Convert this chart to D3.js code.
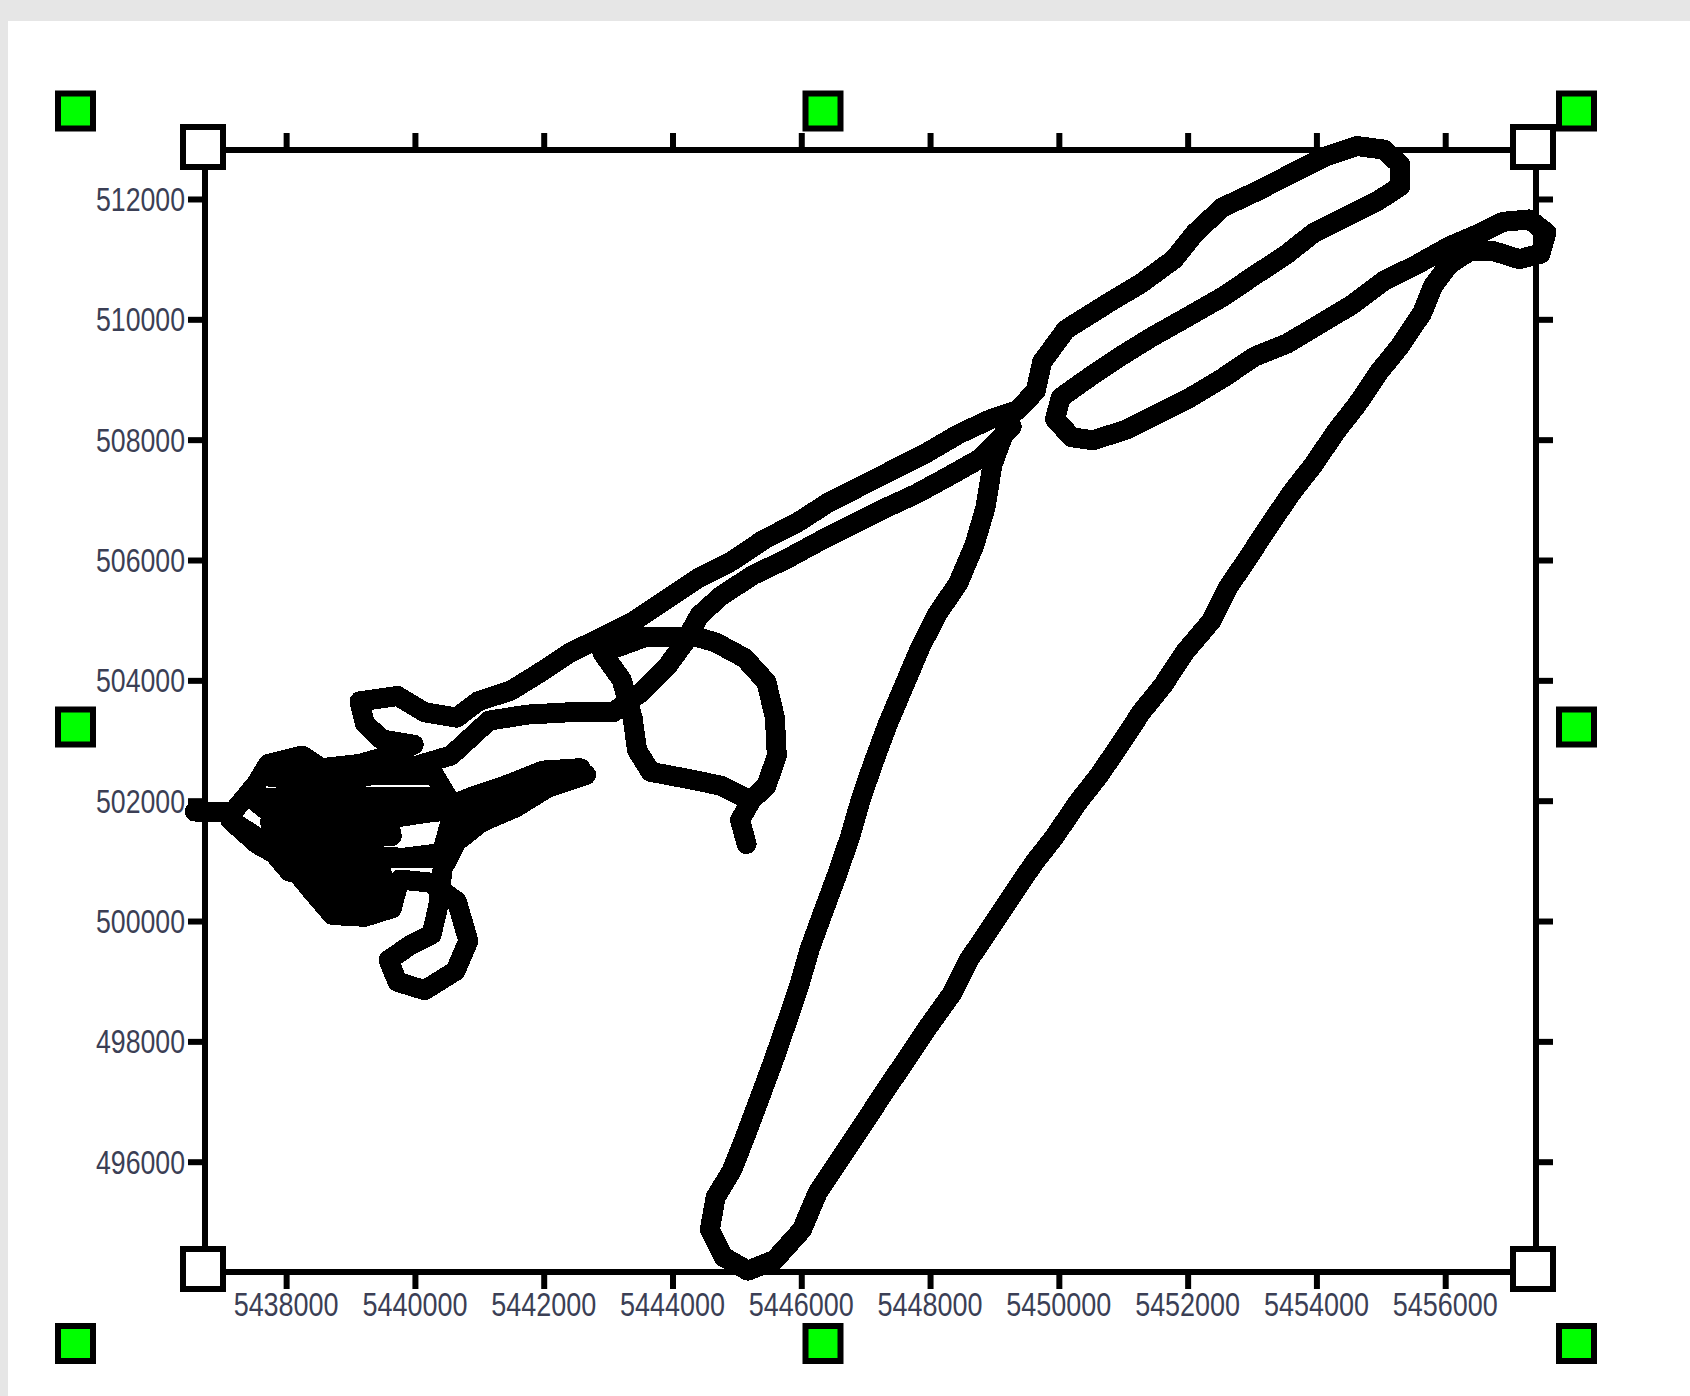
<!DOCTYPE html>
<html>
<head>
<meta charset="utf-8">
<script src="https://cdn.jsdelivr.net/npm/d3@7"></script>
<style>
  html, body { margin: 0; padding: 0; background: #e6e6e6; }
  #panel { position: absolute; left: 8px; top: 21px; width: 1682px; height: 1375px; background: #fff; }
  svg { position: absolute; left: 0; top: 0; }
</style>
</head>
<body>
<div id="panel"></div>
<svg id="chart" width="1690" height="1396"></svg>
<script>
// track legs, [easting, northing]
var westTop = [[5436580,501820],[5437180,501820],[5437550,502300],[5437720,502610],[5438250,502750],
  [5438550,502540],[5439140,502610],[5439590,502750],[5439980,502930],[5439480,503020],[5439220,503290],
  [5439140,503650],[5439730,503740],[5440150,503470],[5440650,503380]];
var outbound = [[5440980,503650],[5441490,503830],[5441900,504100],[5442410,504460],[5442910,504720],
  [5443410,504990],[5443910,505350],[5444420,505710],[5444920,505980],[5445420,506340],[5445920,506610],
  [5446430,506960],[5446930,507230],[5447430,507500],[5447930,507770],[5448440,508090],[5448940,508340],
  [5449360,508490]];
var northLoop = [[5449640,508810],[5449740,509290],[5450110,509830],[5450780,510280],[5451280,510600],
  [5451790,511000],[5452120,511440],[5452540,511860],[5453040,512110],[5453630,512430],[5454130,512700],
  [5454630,512880],[5455050,512820],[5455300,512570],[5455300,512210],[5454970,511980],[5454470,511710],
  [5453960,511440],[5453550,511090],[5453040,510730],[5452540,510370],[5451950,510010],[5451450,509710],
  [5450950,509380],[5450450,509020],[5450030,508700],[5449940,508340],[5450200,508040],[5450530,507990]];
var eastLeg = [[5451030,508160],[5451540,508430],[5452040,508700],[5452540,509020],[5453040,509380],
  [5453550,509600],[5454050,509920],[5454550,510240],[5455050,510640],[5455560,510910],[5456060,511210],
  [5456560,511440],[5456900,511620],[5457310,511660],[5457570,511440],[5457480,511090],[5457150,511000],
  [5456730,511140],[5456390,511140]];
var southLoop = [[5456060,510910],[5455810,510550],[5455640,510100],[5455300,509560],[5454970,509120],
  [5454630,508580],[5454300,508130],[5453960,507590],[5453630,507140],[5453290,506610],[5452960,506070],
  [5452620,505530],[5452370,504990],[5451950,504460],[5451620,503920],[5451280,503470],[5450950,502930],
  [5450610,502400],[5450280,501950],[5449940,501410],[5449610,500960],[5449270,500420],[5448940,499890],
  [5448600,499350],[5448350,498810],[5447930,498180],[5447600,497650],[5447260,497110],[5446930,496570],
  [5446590,496030],[5446260,495500],[5446010,494870],[5445590,494370],[5445170,494190],[5444790,494420],
  [5444580,494870],[5444670,495410],[5444920,495850],[5445120,496390],[5445340,497020],[5445560,497650],
  [5445760,498270],[5445960,498900],[5446130,499530],[5446340,500150],[5446560,500780],[5446760,501410],
  [5446930,502040],[5447130,502660],[5447350,503290],[5447600,503920],[5447850,504550],[5448100,505080],
  [5448440,505620],[5448690,506250],[5448860,506870],[5448970,507590],[5449190,508220]];
var returnLeg = [[5449270,508220],[5448770,507680],[5448270,507380],[5447770,507090],[5447260,506840],
  [5446760,506570],[5446260,506300],[5445760,506010],[5445250,505750],[5444750,505400],[5444420,505080],
  [5444250,504760]];
var lobe = [[5444670,504630],[5445120,504370],[5445460,503970],[5445590,503380],[5445620,502750],
  [5445460,502250],[5445220,502000],[5444750,502250],[5444250,502360],[5443660,502480],[5443450,502840],
  [5443380,503380],[5443210,504010],[5442910,504460],[5443580,504720],[5444250,504720],[5443910,504220],
  [5443500,503790],[5443080,503470],[5442410,503470],[5441740,503430],[5441150,503330]];
var blobA = [[5440560,502750],[5439890,502540],[5439220,502400],[5438550,502300],[5437970,502130],
  [5437750,501640],[5438140,501320],[5438640,501500],[5439140,501640],[5439640,501710],[5440310,501820],
  [5440900,502070],[5441400,502250],[5441990,502500],[5442570,502540]];
var blobB = [[5440560,501640],[5440480,501140],[5439810,501050],[5439140,501100],[5438550,501140],
  [5437970,501140],[5437550,501390],[5437130,501680],[5437550,501280],[5438020,501000],[5438390,500510],
  [5438720,500100],[5439220,500070],[5439640,500210],[5439760,500690],[5440230,500640],[5440650,500330],
  [5440830,499670],[5440630,499170],[5440150,498850],[5439730,498990],[5439590,499350],[5439930,499600],
  [5440260,499780],[5440360,500240],[5440430,500870],[5440650,501320],[5441030,501640],[5441570,501890],
  [5442070,502220],[5442660,502430]];
var blobFill = [[5437720,502400],[5440300,502430],[5440500,502070],[5437470,502040],[5437920,501640],
  [5439260,501680],[5440600,501850],[5440400,501050],[5439310,501050],[5437800,501140],[5438050,500820],
  [5439480,500820],[5439560,500500],[5438420,500500],[5438720,500190],[5439560,500190]];
var blobFill2 = [[5437920,501860],[5439560,501860],[5439640,501410],[5437720,501410]];
var tail = [[5445220,502000],[5445050,501680],[5445150,501280]];

var xTicks = [5438000,5440000,5442000,5444000,5446000,5448000,5450000,5452000,5454000,5456000];
var yTicks = [512000,510000,508000,506000,504000,502000,500000,498000,496000];

var frame = { left: 205, right: 1536, top: 150, bottom: 1272 };
var svg = d3.select("#chart");

var x = d3.scaleLinear().domain([5436740, 5457410]).range([frame.left, frame.right]);
var y = d3.scaleLinear().domain([494167, 512814]).range([frame.bottom, frame.top]);

var tickLen = 17;
function styleAxis(g) {
    g.select(".domain").remove();
    g.selectAll(".tick line").attr("stroke", "#000").attr("stroke-width", 6);
    g.selectAll(".tick text").remove();
}
svg.append("g").attr("transform", "translate(0," + frame.bottom + ")")
    .call(d3.axisBottom(x).tickValues(xTicks).tickSize(tickLen)).call(styleAxis);
svg.append("g").attr("transform", "translate(0," + frame.top + ")")
    .call(d3.axisTop(x).tickValues(xTicks).tickSize(tickLen)).call(styleAxis);
svg.append("g").attr("transform", "translate(" + frame.left + ",0)")
    .call(d3.axisLeft(y).tickValues(yTicks).tickSize(tickLen)).call(styleAxis);
svg.append("g").attr("transform", "translate(" + frame.right + ",0)")
    .call(d3.axisRight(y).tickValues(yTicks).tickSize(tickLen)).call(styleAxis);

// frame
svg.append("rect")
    .attr("x", frame.left).attr("y", frame.top)
    .attr("width", frame.right - frame.left).attr("height", frame.bottom - frame.top)
    .attr("fill", "none").attr("stroke", "#000").attr("stroke-width", 6);

// labels
svg.selectAll(".xl").data(xTicks).enter().append("text")
    .attr("x", function (d) { return x(d); }).attr("y", frame.bottom + 44)
    .attr("text-anchor", "middle")
    .attr("textLength", 105).attr("lengthAdjust", "spacingAndGlyphs")
    .style("font-family", "Liberation Sans").style("font-size", "33px").attr("fill", "#3b3f55")
    .text(function (d) { return d; });
svg.selectAll(".yl").data(yTicks).enter().append("text")
    .attr("x", frame.left - 20).attr("y", function (d) { return y(d) + 12; })
    .attr("text-anchor", "end")
    .attr("textLength", 89).attr("lengthAdjust", "spacingAndGlyphs")
    .style("font-family", "Liberation Sans").style("font-size", "33px").attr("fill", "#3b3f55")
    .text(function (d) { return d; });

// track
var line = d3.line().x(function (d) { return x(d[0]); }).y(function (d) { return y(d[1]); });
var route = d3.merge([westTop, outbound, northLoop, eastLeg, southLoop, returnLeg, lobe, blobA, blobB]);
[route, blobFill, blobFill2, tail].forEach(function (leg) {
    svg.append("path").datum(leg)
        .attr("d", line)
        .attr("fill", "none").attr("stroke", "#000")
        .attr("stroke-width", 20).attr("stroke-linejoin", "round").attr("stroke-linecap", "round")
        .attr("shape-rendering", "crispEdges");
});

// corner handles
var corners = [[frame.left - 2, frame.top - 3], [frame.right - 3, frame.top - 3],
    [frame.right - 3, frame.bottom - 3], [frame.left - 2, frame.bottom - 3]];
svg.selectAll(".corner").data(corners).enter().append("rect")
    .attr("x", function (d) { return d[0] - 20; }).attr("y", function (d) { return d[1] - 20; })
    .attr("width", 40).attr("height", 40)
    .attr("fill", "#fff").attr("stroke", "#000").attr("stroke-width", 6);

// selection handles
var hx = [75.5, 823, 1576.5], hy = [111, 727, 1343.5];
var handles = [];
hy.forEach(function (yy, j) {
    hx.forEach(function (xx, i) {
        if (!(i == 1 && j == 1)) handles.push([xx, yy]);
    });
});
svg.selectAll(".handle").data(handles).enter().append("rect")
    .attr("x", function (d) { return d[0] - 17.5; }).attr("y", function (d) { return d[1] - 17.5; })
    .attr("width", 35).attr("height", 35)
    .attr("fill", "#00ff00").attr("stroke", "#000").attr("stroke-width", 6);
</script>
</body>
</html>
